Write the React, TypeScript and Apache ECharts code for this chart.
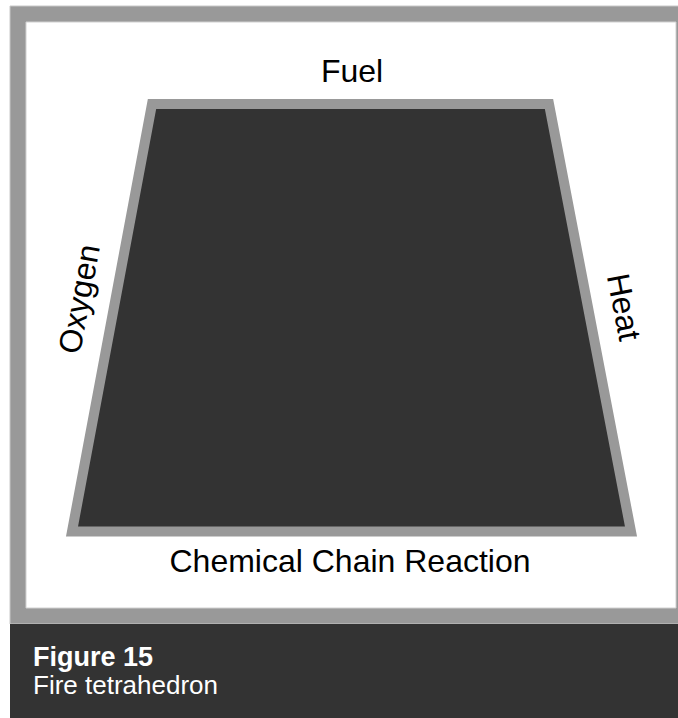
import React, { useEffect, useRef } from "react";
import * as echarts from "echarts";

// Diagram data
const edgeLabels = ["Fuel", "Heat", "Chemical Chain Reaction", "Oxygen"];
const vertexX = [152, 549, 631, 72];
const vertexY = [104, 104, 531.5, 531.5];
const captionTitle = "Figure 15";
const captionText = "Fire tetrahedron";

const FONT = '"Liberation Sans", Arial, Helvetica, sans-serif';

export default function App() {
  const ref = useRef<HTMLDivElement>(null);

  useEffect(() => {
    if (!ref.current) return;
    const chart = echarts.init(ref.current, null, { renderer: "svg" });
    const labelStyle = (text: string) => ({
      text,
      fill: "#000",
      font: `32px ${FONT}`,
      align: "center",
      verticalAlign: "middle",
    });
    const leftTilt = Math.atan2(vertexX[0] - vertexX[3], vertexY[3] - vertexY[0]);
    const rightTilt = Math.atan2(vertexX[2] - vertexX[1], vertexY[2] - vertexY[1]);
    const option: any = {
      animation: false,
      grid: { left: 0, top: 0, width: 678, height: 718, show: false },
      xAxis: { type: "value", min: 0, max: 678, show: false },
      yAxis: { type: "value", min: 0, max: 718, inverse: true, show: false },
      series: [
        {
          type: "custom",
          coordinateSystem: "cartesian2d",
          silent: true,
          z: 5,
          data: [[0, 0]],
          renderItem: (_params: any, api: any) => ({
            type: "polygon",
            shape: {
              points: vertexX.map((x, i) => api.coord([x, vertexY[i]])),
            },
            style: {
              fill: "#333333",
              stroke: "#999999",
              lineWidth: 10,
              lineJoin: "miter",
            },
          }),
        },
      ],
      graphic: [
        {
          type: "rect",
          z: -10,
          silent: true,
          shape: { x: 10, y: 6, width: 680, height: 618 },
          style: { fill: "#999999", stroke: "#c8c8c8", lineWidth: 1 },
        },
        {
          type: "rect",
          z: -9,
          silent: true,
          shape: { x: 26, y: 22, width: 650, height: 586 },
          style: { fill: "#ffffff", stroke: "#d0d0d0", lineWidth: 1 },
        },
        {
          type: "rect",
          z: -8,
          silent: true,
          shape: { x: 10, y: 624, width: 680, height: 100 },
          style: { fill: "#333333" },
        },
        {
          type: "text",
          z: 20,
          x: 352,
          y: 71,
          style: labelStyle(edgeLabels[0]),
        },
        {
          type: "text",
          z: 20,
          x: 350,
          y: 561,
          style: labelStyle(edgeLabels[2]),
        },
        {
          type: "text",
          z: 20,
          x: 79,
          y: 299,
          rotation: Math.PI / 2 - leftTilt,
          style: labelStyle(edgeLabels[3]),
        },
        {
          type: "text",
          z: 20,
          x: 624,
          y: 307,
          rotation: -(Math.PI / 2 - rightTilt),
          style: labelStyle(edgeLabels[1]),
        },
        {
          type: "text",
          z: 20,
          x: 33,
          y: 657,
          style: {
            text: captionTitle,
            fill: "#ffffff",
            font: `bold 27px ${FONT}`,
            align: "left",
            verticalAlign: "middle",
          },
        },
        {
          type: "text",
          z: 20,
          x: 33,
          y: 685,
          style: {
            text: captionText,
            fill: "#ffffff",
            font: `26px ${FONT}`,
            align: "left",
            verticalAlign: "middle",
          },
        },
      ],
    };
    chart.setOption(option);
    return () => chart.dispose();
  }, []);

  return (
    <div
      ref={ref}
      style={{
        position: "fixed",
        left: 0,
        top: 0,
        width: 678,
        height: 718,
        background: "#ffffff",
      }}
    />
  );
}
